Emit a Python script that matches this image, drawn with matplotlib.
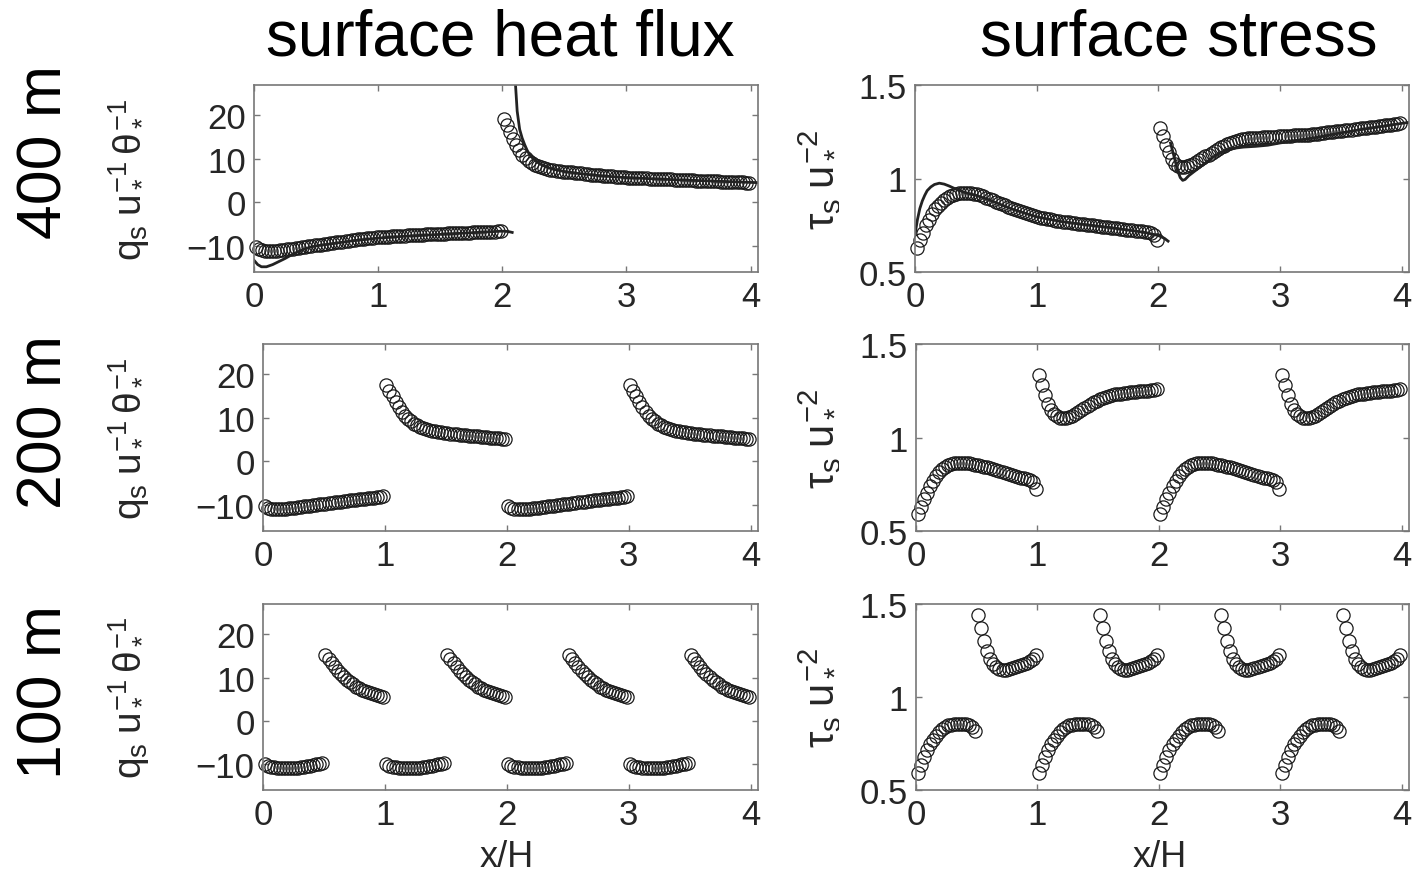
import numpy as np
import matplotlib
matplotlib.use('Agg')
import matplotlib.pyplot as plt

plt.rcParams['font.family'] = ['Liberation Sans', 'DejaVu Sans']
plt.rcParams['mathtext.fontset'] = 'custom'
plt.rcParams['mathtext.rm'] = 'Liberation Sans'
plt.rcParams['mathtext.it'] = 'Liberation Sans'
plt.rcParams['mathtext.bf'] = 'Liberation Sans:bold'

# grid spacing of the LES points (x/H)
dx = 0.025

# ---- 400 m patches: heat flux, circles (LES) ----
hf400_cold = [-10.2, -10.7, -11.0, -11.1, -11.2, -11.2, -11.1, -11.1, -11.0, -10.9,
              -10.8, -10.7, -10.6, -10.5, -10.4, -10.3, -10.2, -10.1, -10.0, -9.9,
              -9.8, -9.7, -9.6, -9.5, -9.4, -9.3, -9.2, -9.1, -9.0, -8.9,
              -8.8, -8.7, -8.6, -8.5, -8.4, -8.3, -8.25, -8.2, -8.1, -8.05,
              -8.0, -7.95, -7.9, -7.85, -7.8, -7.75, -7.7, -7.66, -7.62, -7.58,
              -7.54, -7.5, -7.46, -7.42, -7.38, -7.34, -7.3, -7.27, -7.24, -7.21,
              -7.2, -7.17, -7.14, -7.11, -7.08, -7.05, -7.02, -6.99, -6.96, -6.93,
              -6.9, -6.87, -6.84, -6.81, -6.78, -6.75, -6.72, -6.69, -6.66, -6.63]
hf400_hot = [19.2, 17.8, 16.2, 14.6, 13.2, 12.0, 11.0, 10.2, 9.6, 9.1,
             8.7, 8.4, 8.1, 7.9, 7.7, 7.5, 7.4, 7.3, 7.2, 7.1,
             7.0, 6.95, 6.9, 6.85, 6.8, 6.7, 6.6, 6.5, 6.4, 6.3,
             6.25, 6.2, 6.15, 6.1, 6.05, 6.0, 5.95, 5.9, 5.85, 5.8,
             5.7, 5.67, 5.64, 5.61, 5.58, 5.55, 5.52, 5.49, 5.46, 5.43,
             5.4, 5.37, 5.34, 5.31, 5.28, 5.25, 5.22, 5.19, 5.16, 5.13,
             5.1, 5.07, 5.04, 5.01, 4.98, 4.95, 4.92, 4.89, 4.86, 4.83,
             4.8, 4.77, 4.74, 4.71, 4.68, 4.65, 4.62, 4.59, 4.56, 4.53]
# heat flux, solid line (model)
hf400_line_cold_x = [0.0, 0.03, 0.06, 0.1, 0.15, 0.2, 0.25, 0.3, 0.35, 0.4, 0.45, 0.5,
                     0.6, 0.7, 0.8, 0.9, 1.0, 1.2, 1.4, 1.6, 1.8, 2.0, 2.05, 2.08]
hf400_line_cold_y = [-13.3, -14.3, -14.8, -14.8, -14.3, -13.6, -12.9, -12.1, -11.4, -10.8, -10.3, -10.0,
                     -9.6, -9.2, -8.8, -8.5, -8.2, -7.8, -7.5, -7.2, -6.9, -6.6, -6.7, -6.9]
hf400_line_hot_x = [2.10, 2.12, 2.14, 2.16, 2.18, 2.20, 2.22, 2.25, 2.3, 2.35, 2.4, 2.5,
                    2.6, 2.7, 2.8, 2.9, 3.0, 3.2, 3.4, 3.6, 3.8, 4.0, 4.06]
hf400_line_hot_y = [30.0, 21.0, 16.8, 14.8, 13.3, 12.0, 11.0, 10.0, 8.9, 8.2, 7.7, 7.1,
                    6.7, 6.4, 6.1, 5.9, 5.7, 5.45, 5.2, 5.0, 4.8, 4.6, 4.55]

# ---- 400 m patches: surface stress ----
st400_cold = [0.63, 0.67, 0.71, 0.75, 0.78, 0.81, 0.835, 0.855, 0.87, 0.885,
              0.895, 0.905, 0.912, 0.918, 0.922, 0.924, 0.925, 0.924, 0.922, 0.919,
              0.915, 0.91, 0.904, 0.898, 0.891, 0.884, 0.877, 0.870, 0.863, 0.856,
              0.849, 0.843, 0.837, 0.831, 0.825, 0.819, 0.814, 0.809, 0.804, 0.799,
              0.795, 0.791, 0.787, 0.784, 0.781, 0.778, 0.775, 0.772, 0.769, 0.767,
              0.765, 0.763, 0.761, 0.759, 0.757, 0.755, 0.753, 0.751, 0.749, 0.747,
              0.745, 0.743, 0.741, 0.739, 0.737, 0.735, 0.733, 0.731, 0.729, 0.727,
              0.725, 0.723, 0.721, 0.719, 0.717, 0.715, 0.712, 0.708, 0.70, 0.67]
st400_hot = [1.27, 1.225, 1.18, 1.14, 1.105, 1.08, 1.068, 1.063, 1.063, 1.066,
             1.072, 1.08, 1.089, 1.098, 1.108, 1.118, 1.128, 1.138, 1.148, 1.158,
             1.167, 1.176, 1.184, 1.191, 1.197, 1.202, 1.206, 1.209, 1.212, 1.214,
             1.216, 1.217, 1.218, 1.219, 1.22, 1.221, 1.222, 1.223, 1.224, 1.225,
             1.226, 1.227, 1.228, 1.229, 1.23, 1.231, 1.232, 1.233, 1.234, 1.235,
             1.236, 1.238, 1.24, 1.242, 1.244, 1.246, 1.248, 1.25, 1.252, 1.254,
             1.256, 1.258, 1.26, 1.262, 1.264, 1.266, 1.268, 1.27, 1.272, 1.274,
             1.276, 1.278, 1.28, 1.282, 1.284, 1.286, 1.288, 1.29, 1.292, 1.295]
st400_line_cold_x = [0.0, 0.02, 0.04, 0.06, 0.08, 0.1, 0.13, 0.16, 0.2, 0.24, 0.28, 0.32,
                     0.36, 0.4, 0.45, 0.5, 0.6, 0.7, 0.8, 0.9, 1.0, 1.2, 1.4, 1.6,
                     1.8, 1.9, 2.0, 2.05, 2.08]
st400_line_cold_y = [0.70, 0.78, 0.84, 0.88, 0.91, 0.935, 0.955, 0.968, 0.975, 0.97, 0.96, 0.948,
                     0.937, 0.927, 0.918, 0.91, 0.888, 0.862, 0.836, 0.815, 0.795, 0.77, 0.753, 0.738,
                     0.72, 0.71, 0.695, 0.68, 0.665]
st400_line_hot_x = [2.10, 2.12, 2.14, 2.16, 2.18, 2.2, 2.22, 2.25, 2.3, 2.35, 2.4, 2.45,
                    2.5, 2.55, 2.6, 2.7, 2.8, 2.9, 3.0, 3.1, 3.2, 3.3, 3.4, 3.6,
                    3.8, 4.0, 4.06]
st400_line_hot_y = [1.19, 1.14, 1.09, 1.04, 1.005, 0.99, 0.995, 1.015, 1.04, 1.065, 1.09, 1.115,
                    1.135, 1.15, 1.16, 1.168, 1.172, 1.178, 1.19, 1.2, 1.21, 1.22, 1.232, 1.255,
                    1.275, 1.295, 1.3]

# ---- 200 m patches (one cold + one hot patch, repeated) ----
hf200_cold = [-10.2, -10.6, -10.85, -10.95, -11.0, -11.0, -10.95, -10.87, -10.78, -10.69,
              -10.6, -10.51, -10.42, -10.33, -10.24, -10.15, -10.06, -9.97, -9.88, -9.79,
              -9.7, -9.61, -9.52, -9.43, -9.34, -9.25, -9.16, -9.07, -8.98, -8.89,
              -8.8, -8.72, -8.64, -8.56, -8.48, -8.4, -8.32, -8.24, -8.16, -8.0]
hf200_hot = [17.5, 16.3, 15.0, 13.7, 12.5, 11.4, 10.5, 9.8, 9.2, 8.7,
             8.3, 8.0, 7.7, 7.45, 7.25, 7.1, 6.95, 6.8, 6.7, 6.6,
             6.5, 6.4, 6.3, 6.22, 6.15, 6.08, 6.0, 5.93, 5.86, 5.8,
             5.74, 5.68, 5.62, 5.56, 5.5, 5.44, 5.38, 5.3, 5.22, 5.15]
st200_cold = [0.59, 0.63, 0.67, 0.705, 0.74, 0.77, 0.795, 0.815, 0.83, 0.842,
              0.851, 0.857, 0.861, 0.863, 0.864, 0.864, 0.863, 0.861, 0.858, 0.855,
              0.852, 0.848, 0.844, 0.84, 0.836, 0.831, 0.826, 0.821, 0.816, 0.811,
              0.806, 0.801, 0.796, 0.791, 0.786, 0.781, 0.776, 0.771, 0.762, 0.727]
st200_hot = [1.335, 1.28, 1.225, 1.18, 1.145, 1.125, 1.113, 1.106, 1.103, 1.104,
             1.108, 1.115, 1.124, 1.134, 1.145, 1.156, 1.167, 1.178, 1.188, 1.197,
             1.205, 1.212, 1.218, 1.223, 1.227, 1.23, 1.233, 1.235, 1.237, 1.239,
             1.241, 1.243, 1.245, 1.247, 1.249, 1.25, 1.251, 1.252, 1.254, 1.258]

# ---- 100 m patches ----
hf100_cold = [-10.1, -10.4, -10.6, -10.75, -10.85, -10.9, -10.95, -10.95, -10.95, -10.9,
              -10.85, -10.8, -10.7, -10.6, -10.5, -10.4, -10.25, -10.1, -9.95, -9.7]
hf100_hot = [15.3, 14.3, 13.3, 12.4, 11.6, 10.8, 10.1, 9.5, 8.9, 8.4,
             7.9, 7.5, 7.15, 6.85, 6.6, 6.35, 6.15, 5.95, 5.8, 5.6]
st100_cold = [0.59, 0.635, 0.68, 0.715, 0.745, 0.77, 0.792, 0.81, 0.826, 0.838,
              0.847, 0.852, 0.855, 0.856, 0.856, 0.856, 0.855, 0.852, 0.84, 0.815]
st100_hot = [1.44, 1.37, 1.3, 1.245, 1.205, 1.178, 1.16, 1.15, 1.146, 1.147,
             1.15, 1.155, 1.16, 1.166, 1.172, 1.178, 1.185, 1.193, 1.203, 1.225]

col_titles = ['surface heat flux', 'surface stress']
row_titles = ['400 m', '200 m', '100 m']
hf_label = r'$q_s\;u_*^{-1}\,\theta_*^{-1}$'
st_label = r'$\tau_s\;u_*^{-2}$'

W, H = 1416, 879
fig = plt.figure(figsize=(W / 100, H / 100), dpi=100)

def add_ax(l, t, r, b):
    return fig.add_axes([l / W, 1 - b / H, (r - l) / W, (b - t) / H])

def style(ax, ylim, yticks, yticklabels):
    ax.set_xlim(0, 4.06)
    ax.set_ylim(*ylim)
    ax.set_xticks([0, 1, 2, 3, 4])
    ax.set_yticks(yticks)
    ax.set_yticklabels(yticklabels)
    ax.tick_params(direction='in', length=4, width=1, color='#777777', labelcolor='#262626',
                   labelsize=25, top=True, right=True, pad=6)
    for s in ax.spines.values():
        s.set_color('#777777')
        s.set_linewidth(1.2)

def circles(ax, x0, vals):
    x = x0 + dx / 2 + dx * np.arange(len(vals))
    ax.plot(x, vals, 'o', mfc='none', mec='#1a1a1a', ms=9.5, mew=0.9, clip_on=False)

hf_lim = (-16, 27)
st_lim = (0.5, 1.5)
hf_ticks = ([-10, 0, 10, 20], ['\u221210', '0', '10', '20'])
st_ticks = ([0.5, 1, 1.5], ['0.5', '1', '1.5'])

boxes_left = [(254, 86, 758, 273), (263, 345, 758, 532), (263, 605, 758, 791)]
boxes_right = [(915, 86, 1409, 273), (916, 345, 1409, 532), (916, 605, 1409, 791)]

axes = []
for i in range(3):
    a1 = add_ax(*boxes_left[i])
    a2 = add_ax(*boxes_right[i])
    style(a1, hf_lim, *hf_ticks)
    style(a2, st_lim, *st_ticks)
    axes.append((a1, a2))

# 400 m
a1, a2 = axes[0]
circles(a1, 0.0, hf400_cold)
circles(a1, 2.0, hf400_hot)
a1.plot(hf400_line_cold_x, hf400_line_cold_y, '-', color='#222222', lw=2.0)
a1.plot(hf400_line_hot_x, hf400_line_hot_y, '-', color='#222222', lw=2.0)
circles(a2, 0.0, st400_cold)
circles(a2, 2.0, st400_hot)
a2.plot(st400_line_cold_x, st400_line_cold_y, '-', color='#222222', lw=2.0)
a2.plot(st400_line_hot_x, st400_line_hot_y, '-', color='#222222', lw=2.0)

# 200 m
a1, a2 = axes[1]
for x0 in [0.0, 2.0]:
    circles(a1, x0, hf200_cold)
    circles(a1, x0 + 1.0, hf200_hot)
    circles(a2, x0, st200_cold)
    circles(a2, x0 + 1.0, st200_hot)

# 100 m
a1, a2 = axes[2]
for x0 in [0.0, 1.0, 2.0, 3.0]:
    circles(a1, x0, hf100_cold)
    circles(a1, x0 + 0.5, hf100_hot)
    circles(a2, x0, st100_cold)
    circles(a2, x0 + 0.5, st100_hot)

# labels
for i in range(3):
    l, t, r, b = boxes_left[i]
    fig.text(128 / W, 1 - (t + b) / 2 / H, hf_label, rotation=90, ha='center', va='center',
             fontsize=28, color='#262626')
    l, t, r, b = boxes_right[i]
    fig.text(818 / W, 1 - (t + b) / 2 / H, st_label, rotation=90, ha='center', va='center',
             fontsize=30, color='#262626')

fig.text(500 / W, 1 - 38 / H, col_titles[0], ha='center', va='center', fontsize=46)
fig.text(1179 / W, 1 - 38 / H, col_titles[1], ha='center', va='center', fontsize=46)
for y, t in zip([152, 422, 692], row_titles):
    fig.text(45 / W, 1 - y / H, t, rotation=90, ha='center', va='center', fontsize=45)

fig.text(507 / W, 1 - 858 / H, 'x/H', ha='center', va='center', fontsize=26, color='#262626')
fig.text(1160 / W, 1 - 858 / H, 'x/H', ha='center', va='center', fontsize=26, color='#262626')

fig.savefig('out.png', dpi=100, facecolor='white')
